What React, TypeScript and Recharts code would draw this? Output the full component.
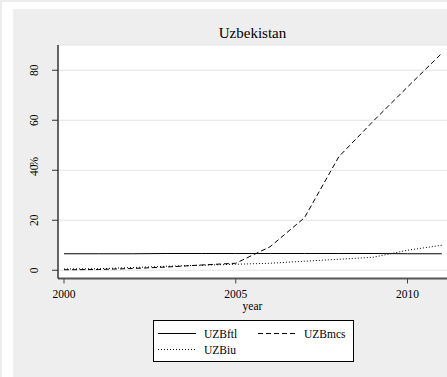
import { LineChart, Line, XAxis, YAxis, CartesianGrid, Label } from 'recharts';

const years = [2000, 2001, 2002, 2003, 2004, 2005, 2006, 2007, 2008, 2009, 2010, 2011];
const uzbFtl = [6.6, 6.6, 6.6, 6.7, 6.7, 6.7, 6.7, 6.7, 6.7, 6.7, 6.6, 6.6];
const uzbMcs = [0.2, 0.3, 0.7, 1.3, 2.1, 2.8, 9.4, 21.0, 45.4, 59.6, 73.3, 86.8];
const uzbIu = [0.5, 0.6, 1.1, 1.6, 2.0, 2.4, 2.8, 3.6, 4.4, 5.2, 8.0, 10.0];

const xTicks = [2000, 2005, 2010];
const yTicks = [0, 20, 40, 60, 80];

const series = [
  { key: 'UZBftl', dash: undefined },
  { key: 'UZBmcs', dash: '5 3' },
  { key: 'UZBiu', dash: '1 2' },
];

const data = years.map((year, i) => ({
  year,
  UZBftl: uzbFtl[i],
  UZBmcs: uzbMcs[i],
  UZBiu: uzbIu[i],
}));

const font = '"Liberation Serif", "Times New Roman", serif';

function YTick(props: any) {
  const { y, payload } = props;
  return (
    <text
      x={25}
      y={y}
      textAnchor="middle"
      transform={`rotate(-90, 25, ${y})`}
      fontFamily={font}
      fontSize={11.5}
      fill="#000"
    >
      {payload.value}
    </text>
  );
}

function Legend() {
  const cols = [5, 105];
  return (
    <svg width={201} height={42} style={{ position: 'absolute', left: 153, top: 320 }}>
      <rect x={0.5} y={0.5} width={200} height={41} fill="#fff" stroke="#000" />
      {series.map((s, i) => {
        const cx = cols[i % 2];
        const cy = i < 2 ? 13.5 : 29.5;
        return (
          <g key={s.key}>
            <line x1={cx} x2={cx + 38} y1={cy} y2={cy} stroke="#000" strokeDasharray={s.dash} />
            <text x={cx + 46} y={cy + 4} fontFamily={font} fontSize={11.5} fill="#000">
              {s.key}
            </text>
          </g>
        );
      })}
    </svg>
  );
}

export default function App() {
  return (
    <div
      style={{
        position: 'absolute',
        left: 0,
        top: 0,
        width: 447,
        height: 377,
        background: '#fff',
        borderLeft: '2px solid #ececec',
        borderTop: '2px solid #ececec',
        boxSizing: 'border-box',
        overflow: 'hidden',
      }}
    >
      <div
        style={{
          position: 'absolute',
          left: 11,
          top: 7,
          width: 434,
          height: 368,
          background: '#eeeeee',
        }}
      >
        <div
          style={{
            position: 'absolute',
            left: 45,
            width: 389,
            top: 17,
            textAlign: 'center',
            fontFamily: font,
            fontSize: 15,
            lineHeight: '15px',
            color: '#000',
          }}
        >
          Uzbekistan
        </div>
        <LineChart width={434} height={368} data={data} margin={{ top: 36, right: 0, left: 0, bottom: 68.5 }}>
          <CartesianGrid horizontal vertical={false} fill="#fff" stroke="#e3e3e3" />
          <XAxis
            type="number"
            dataKey="year"
            domain={[1999.825, 2011.15]}
            ticks={xTicks}
            allowDataOverflow
            height={30}
            tickSize={5}
            tickMargin={6}
            tick={{ fontFamily: font, fontSize: 11.5, fill: '#000' }}
            tickLine={{ stroke: '#444' }}
            axisLine={{ stroke: '#555', strokeWidth: 2 }}
          >
            <Label
              content={(p: any) => {
                const vb = p.viewBox;
                return (
                  <text x={vb.x + vb.width / 2} y={301} textAnchor="middle" fontFamily={font} fontSize={11.5} fill="#000">
                    year
                  </text>
                );
              }}
            />
          </XAxis>
          <YAxis
            type="number"
            domain={[-3.3, 90.1]}
            ticks={yTicks}
            allowDataOverflow
            width={45}
            tickSize={6}
            tick={<YTick />}
            tickLine={{ stroke: '#333' }}
            axisLine={{ stroke: '#333', strokeWidth: 1.5 }}
          >
            <Label
              content={(p: any) => {
                const vb = p.viewBox;
                const cy = vb.y + vb.height / 2;
                return (
                  <text
                    x={25}
                    y={cy}
                    textAnchor="middle"
                    transform={`rotate(-90, 25, ${cy})`}
                    fontFamily={font}
                    fontSize={11.5}
                    fill="#000"
                  >
                    %
                  </text>
                );
              }}
            />
          </YAxis>
          {series.map((s) => (
            <Line
              key={s.key}
              type="linear"
              dataKey={s.key}
              stroke="#000"
              strokeWidth={1}
              strokeDasharray={s.dash}
              dot={false}
              activeDot={false}
              isAnimationActive={false}
            />
          ))}
        </LineChart>
        <div style={{ position: 'absolute', left: -13, top: -9 }}>
          <Legend />
        </div>
      </div>
    </div>
  );
}
